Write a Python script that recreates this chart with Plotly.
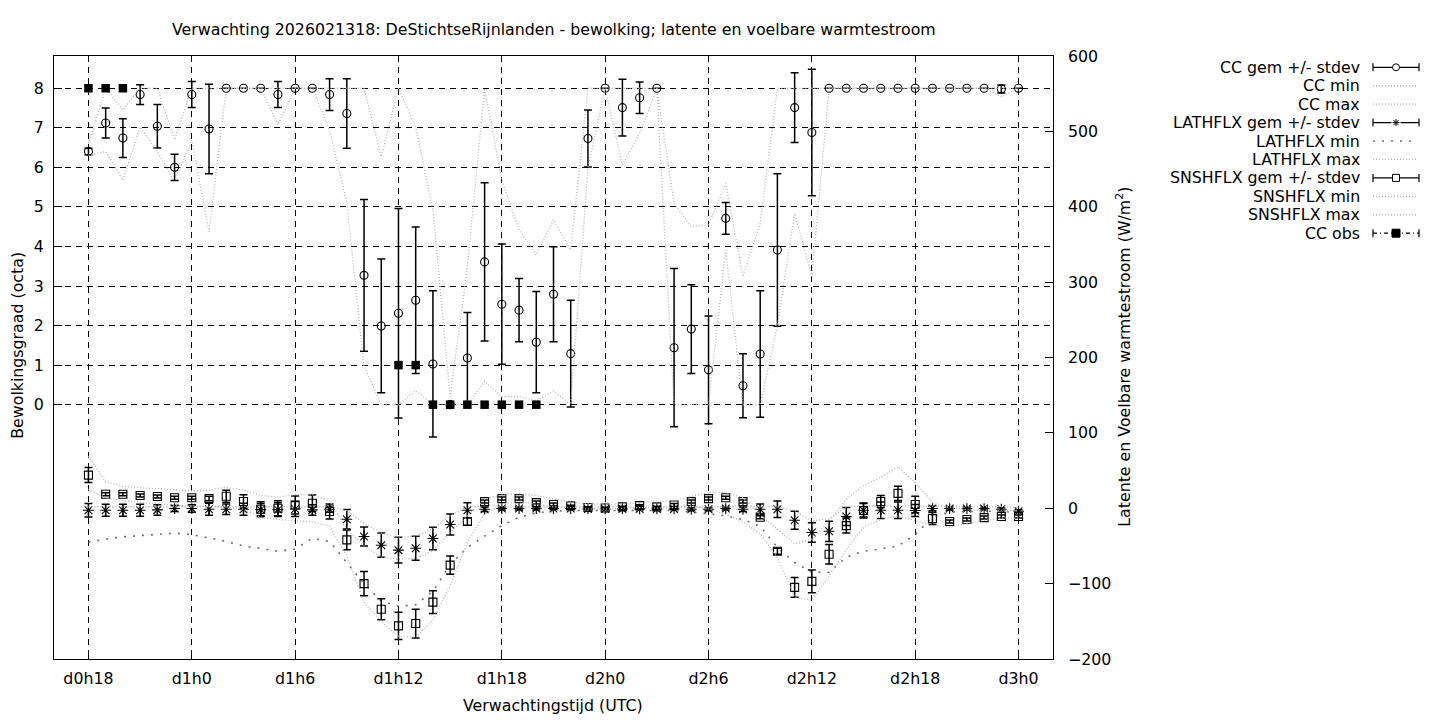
import plotly.graph_objects as go

# ---------------- data (hours since d0h0) ----------------
hours = [18, 19, 20, 21, 22, 23, 24, 25, 26, 27, 28, 29, 30, 31, 32, 33, 34, 35, 36, 37,
         38, 39, 40, 41, 42, 43, 44, 45, 46, 47, 48, 49, 50, 51, 52, 53, 54, 55, 56, 57,
         58, 59, 60, 61, 62, 63, 64, 65, 66, 67, 68, 69, 70, 71, 72]

tick_hours = [18, 24, 30, 36, 42, 48, 54, 60, 66, 72]
tick_labels = ["d0h18", "d1h0", "d1h6", "d1h12", "d1h18", "d2h0", "d2h6", "d2h12", "d2h18", "d3h0"]

cc_mean = [6.4, 7.12, 6.74, 7.84, 7.04, 6.0, 7.84, 6.97, 8, 8, 8, 7.84, 8, 8, 7.84, 7.36, 3.27, 1.99, 2.31, 2.64,
           1.03, 0.0, 1.18, 3.61, 2.54, 2.39, 1.58, 2.79, 1.29, 6.73, 8, 7.51, 7.76, 8, 1.44, 1.91, 0.88, 4.71, 0.48, 1.28,
           3.91, 7.51, 6.88, 8, 8, 8, 8, 8, 8, 8, 8, 8, 8, 7.98, 8]
cc_std = [0.08, 0.38, 0.49, 0.25, 0.55, 0.33, 0.33, 1.13, 0, 0, 0, 0.33, 0, 0, 0.4, 0.88, 1.92, 1.69, 2.65, 1.85,
          1.85, 0, 1.15, 2.0, 1.52, 0.8, 1.28, 1.2, 1.35, 0.72, 0, 0.72, 0.4, 0, 2.0, 1.12, 1.36, 0.4, 0.81, 1.6,
          1.93, 0.88, 1.6, 0, 0, 0, 0, 0, 0, 0, 0, 0, 0, 0.1, 0]
cc_min = [6.3, 6.4, 5.68, 7.02, 6.4, 5.64, 6.69, 4.37, 8, 8, 8, 7.07, 8, 8, 6.94, 5.1, 0.97, 0, 0, 0.36,
          0, 0, 0, 0.59, 0.2, 0.2, 0.1, 0.34, 0, 6.0, 8, 6.06, 6.86, 8, 0, 0, 0, 3.91, 0, 0,
          2.0, 4.83, 3.24, 8, 8, 8, 8, 8, 8, 8, 8, 8, 8, 7.78, 8]
cc_max = [6.6, 8, 7.45, 8, 8, 6.7, 8, 8, 8, 8, 8, 8, 8, 8, 8, 8, 8, 6.27, 8, 7.02,
          4.92, 0.2, 3.49, 8, 5.68, 4.42, 3.79, 4.67, 3.91, 8, 8, 8, 8, 8, 5.09, 4.5, 4.55, 5.59, 3.24, 4.58,
          8, 8, 8, 8, 8, 8, 8, 8, 8, 8, 8, 8, 8, 8, 8]

lat_mean = [-2.6, -2.6, -2.6, -2.6, -2.2, -0.4, -0.4, -1.3, -1.3, -1.3, -1.8, -1.8, -1.0, -2.2, -1.3, -14.6, -37.5, -49, -55.6, -53,
            -40.2, -21.6, -2.6, -1.3, -0.4, -0.4, -0.4, -0.4, -0.4, -0.9, -0.9, -0.9, -0.9, -0.9, -0.9, -1.3, -1.3, -0.4, -1.3, -1.3,
            -1.3, -15.9, -32.2, -30.6, -11, -2.6, -2.6, -2.6, -3.0, -0.4, -0.4, -0.4, -0.4, -1.3, -4]
lat_std = [9, 8, 8, 8, 7, 4, 5, 8, 7, 8, 8, 9, 10, 7, 4, 13, 12.6, 16, 17, 16,
           15, 14, 10, 3, 2, 2, 2, 1.5, 1, 1, 1, 1, 1, 1, 1, 2, 2, 2, 3, 7,
           11, 12, 13, 13.5, 12, 9, 11, 11, 8, 3, 2, 2, 2, 2, 2]
lat_min = [-45, -41, -38, -36, -34, -33, -35, -39, -44, -50, -54, -57, -54, -40, -44, -72, -100, -123, -130, -128,
           -110, -75, -52, -37, -23, -12, -6, -4, -3, -3, -3, -3, -3, -3, -3, -5, -8, -10, -15, -24,
           -52, -72, -85, -85, -65, -57, -54, -50, -35, -12, -5, -4, -4, -4, -6]
lat_max = [2, 2, 2, 2, 2, 2, 2, 2, 2, 2, 2, 2, 2, 3, 2, -3, -20, -33, -39, -37,
           -27, -10, 2, 3, 2, 2, 2, 2, 2, 2, 2, 2, 2, 2, 2, 2, 2, 2, 2, 3,
           2, -3, -17, -14, 2, 3, 3, 3, 3, 2, 2, 2, 2, 2, 1]

sns_mean = [44, 18.5, 18.5, 17, 15.5, 14, 14, 13, 16, 9, -1.3, 0, 4.4, 6.6, -4.4, -42, -100, -134, -156, -153,
            -124.5, -75.5, -17.6, 8.8, 12.8, 12.8, 7.5, 4.9, 3.1, 0.9, 0.4, 1.8, 3.5, 1.8, 4.4, 8.8, 12.8, 14, 8.8, -12,
            -57, -105, -97, -61, -23, -3, 9, 19.7, 4.9, -13.7, -17.6, -15, -12.4, -11, -11]
sns_std = [10, 2, 2, 2, 2, 2, 2, 3, 8, 9, 10, 10, 12, 11, 10, 13, 16, 14, 18, 19,
           15, 12, 5, 2, 2, 2, 2, 2, 1, 1, 1, 1, 1, 1, 2, 2, 2, 2, 2, 2,
           4, 13, 15, 13, 10, 10, 8, 9.5, 11, 8, 2, 2, 2, 2, 2]
sns_min = [25, 14, 10, 8, 5, 4, 3, 2.5, 2, -1, -12, -15, -17, -18, -24, -63, -125, -150, -170, -171,
           -148, -103, -45, -8, 5, 9, 5, 2, 1, -1, -1, 0, 1, 0, 1, 3, -1, -8, -18, -34,
           -65, -118, -122, -90, -55, -25, -15, -10, -16, -23, -25, -20, -16, -13, -13]
sns_max = [69, 35, 29, 27, 26, 25, 23, 24, 28, 24, 17, 15, 18, 18, 10, -28, -50, -65, -67.5, -66.6,
           -56.5, -32, -10, 12, 18, 19, 17, 12, 8, 6, 5, 6, 7, 8, 10, 16, 21, 21, 14, -9,
           -28, -47, -41, -17, 12, 30, 41, 55, 34, 8, 1, -2, -3, -3, -3]

obs_hours = [18, 19, 20, 36, 37, 38, 39, 40, 41, 42, 43, 44]
obs_vals = [8, 8, 8, 1, 1, 0, 0, 0, 0, 0, 0, 0]

legend_labels = ["CC gem +/- stdev", "CC min", "CC max", "LATHFLX gem +/- stdev", "LATHFLX min",
                 "LATHFLX max", "SNSHFLX gem +/- stdev", "SNSHFLX min", "SNSHFLX max", "CC obs"]

# ---------------- styling ----------------
FONT = "DejaVu Sans"
FS = 15.8
LIGHT = "#b4b4b4"
DARKDOT = "#6e6e6e"
DENSE = "1px,2px"
SPARSE = "2px,7px"

# plot area in pixels
L, R, T, B = 54, 1053, 56, 659.5
W, H = R - L, B - T


def px_x(px):
    return (px - L) / W


def px_y(py):
    return (B - py) / H


fig = go.Figure()


def err_trace(y, s, sym, size, name, axis):
    return go.Scatter(x=hours, y=y, mode="markers", name=name, yaxis=axis,
                      marker=dict(symbol=sym, size=size, color="black", line=dict(width=1.1, color="black")),
                      error_y=dict(type="data", array=s, visible=True, color="black", thickness=1.5, width=4),
                      showlegend=False)


def line_trace(y, color, dash, width, name, axis):
    return go.Scatter(x=hours, y=y, mode="lines", name=name, yaxis=axis,
                      line=dict(color=color, dash=dash, width=width),
                      showlegend=False)


fig.add_trace(err_trace(cc_mean, cc_std, "circle-open", 8, "CC gem +/- stdev", "y"))
fig.add_trace(line_trace(cc_min, LIGHT, DENSE, 1.3, "CC min", "y"))
fig.add_trace(line_trace(cc_max, LIGHT, DENSE, 1.3, "CC max", "y"))
fig.add_trace(err_trace(lat_mean, lat_std, "asterisk-open", 9, "LATHFLX gem +/- stdev", "y2"))
fig.add_trace(line_trace(lat_min, DARKDOT, SPARSE, 1.6, "LATHFLX min", "y2"))
fig.add_trace(line_trace(lat_max, LIGHT, DENSE, 1.3, "LATHFLX max", "y2"))
fig.add_trace(err_trace(sns_mean, sns_std, "square-open", 8, "SNSHFLX gem +/- stdev", "y2"))
fig.add_trace(line_trace(sns_min, LIGHT, DENSE, 1.3, "SNSHFLX min", "y2"))
fig.add_trace(line_trace(sns_max, LIGHT, DENSE, 1.3, "SNSHFLX max", "y2"))
fig.add_trace(go.Scatter(x=obs_hours, y=obs_vals, mode="markers", name="CC obs", yaxis="y",
                         marker=dict(symbol="square", size=8.5, color="black"), showlegend=False))

# ---------------- manual gnuplot-style key ----------------
shapes = []
annotations = []
row0, drow = 67.3, 18.45
sx0, sx1, sxm = 1373, 1419, 1396
for i, lab in enumerate(legend_labels):
    py = row0 + i * drow
    yy = px_y(py)
    annotations.append(dict(text=lab, x=px_x(1362), y=yy, xref="paper", yref="paper",
                            xanchor="right", yanchor="middle", showarrow=False,
                            font=dict(family=FONT, size=FS, color="black")))
    if "gem" in lab or "obs" in lab:
        dash = "solid" if "gem" in lab else "4px,3px,1px,3px"
        shapes.append(dict(type="line", xref="paper", yref="paper", x0=px_x(sx0), x1=px_x(sx1),
                           y0=yy, y1=yy, line=dict(color="black", width=1.2, dash=dash)))
        for cx in (sx0, sx1):
            shapes.append(dict(type="line", xref="paper", yref="paper", x0=px_x(cx), x1=px_x(cx),
                               y0=px_y(py - 4), y1=px_y(py + 4), line=dict(color="black", width=1.2)))
        if "CC gem" in lab:
            shapes.append(dict(type="circle", xref="paper", yref="paper", xsizemode="pixel", ysizemode="pixel",
                               xanchor=px_x(sxm), yanchor=yy, x0=-3.5, x1=3.5, y0=-3.5, y1=3.5,
                               fillcolor="white", line=dict(color="black", width=1)))
        elif "SNSHFLX" in lab:
            shapes.append(dict(type="rect", xref="paper", yref="paper", xsizemode="pixel", ysizemode="pixel",
                               xanchor=px_x(sxm), yanchor=yy, x0=-3.5, x1=3.5, y0=-3.5, y1=3.5,
                               fillcolor="white", line=dict(color="black", width=1)))
        elif "obs" in lab:
            shapes.append(dict(type="rect", xref="paper", yref="paper", xsizemode="pixel", ysizemode="pixel",
                               xanchor=px_x(sxm), yanchor=yy, x0=-4, x1=4, y0=-4, y1=4,
                               fillcolor="black", line=dict(color="black", width=1)))
        else:
            shapes.append(dict(type="rect", xref="paper", yref="paper", xsizemode="pixel", ysizemode="pixel",
                               xanchor=px_x(sxm), yanchor=yy, x0=-4.5, x1=4.5, y0=-4.5, y1=4.5,
                               fillcolor="white", line=dict(color="white", width=0)))
            for (a, b, c, d) in ((-3.5, 0, 3.5, 0), (0, -3.5, 0, 3.5), (-2.6, -2.6, 2.6, 2.6), (-2.6, 2.6, 2.6, -2.6)):
                shapes.append(dict(type="line", xref="paper", yref="paper", xsizemode="pixel", ysizemode="pixel",
                                   xanchor=px_x(sxm), yanchor=yy, x0=a, y0=b, x1=c, y1=d,
                                   line=dict(color="black", width=1)))
    else:
        if lab == "LATHFLX min":
            col, dsh, wd = DARKDOT, SPARSE, 1.6
        else:
            col, dsh, wd = LIGHT, DENSE, 1.3
        shapes.append(dict(type="line", xref="paper", yref="paper", x0=px_x(sx0), x1=px_x(1416),
                           y0=yy, y1=yy, line=dict(color=col, width=wd, dash=dsh)))

# titles
annotations += [
    dict(text="Verwachting 2026021318: DeStichtseRijnlanden - bewolking; latente en voelbare warmtestroom",
         x=px_x(554), y=px_y(29), xref="paper", yref="paper", showarrow=False,
         xanchor="center", yanchor="middle", font=dict(family=FONT, size=FS, color="black")),
    dict(text="Verwachtingstijd (UTC)", x=px_x(553), y=px_y(706), xref="paper", yref="paper",
         showarrow=False, xanchor="center", yanchor="middle", font=dict(family=FONT, size=FS, color="black")),
    dict(text="Bewolkingsgraad (octa)", x=px_x(18), y=px_y(346), xref="paper", yref="paper",
         showarrow=False, textangle=-90, xanchor="center", yanchor="middle",
         font=dict(family=FONT, size=FS, color="black")),
    dict(text="Latente en Voelbare warmtestroom (W/m<sup>2</sup>)", x=px_x(1124), y=px_y(357),
         xref="paper", yref="paper", showarrow=False, textangle=-90, xanchor="center", yanchor="middle",
         font=dict(family=FONT, size=FS, color="black")),
]

GRID_DASH = "6px,5px"
fig.update_layout(
    width=1440, height=720,
    margin=dict(l=L, r=1440 - R, t=T, b=720 - B),
    paper_bgcolor="white", plot_bgcolor="white",
    font=dict(family=FONT, size=FS, color="black"),
    showlegend=False,
    shapes=shapes, annotations=annotations,
    xaxis=dict(range=[16, 74], tickvals=tick_hours, ticktext=tick_labels,
               ticks="inside", ticklen=8, tickcolor="black", ticklabelstandoff=5,
               tickfont=dict(family=FONT, size=FS, color="black"),
               showgrid=True, gridcolor="black", gridwidth=1, griddash=GRID_DASH,
               showline=True, linecolor="black", linewidth=1, mirror=True, zeroline=False),
    yaxis=dict(range=[-6.43, 8.815], tickvals=[0, 1, 2, 3, 4, 5, 6, 7, 8],
               ticks="inside", ticklen=8, tickcolor="black", ticklabelstandoff=6,
               tickfont=dict(family=FONT, size=FS, color="black"),
               showgrid=True, gridcolor="black", gridwidth=1, griddash=GRID_DASH,
               showline=True, linecolor="black", linewidth=1, mirror=True, zeroline=False),
    yaxis2=dict(range=[-200, 600], tickvals=[-200, -100, 0, 100, 200, 300, 400, 500, 600],
                overlaying="y", side="right", ticks="inside", ticklen=8, tickcolor="black",
                tickfont=dict(family=FONT, size=FS, color="black"),
                ticklabelstandoff=14, showgrid=False, zeroline=False, showline=False),
)

fig.write_html("out.html", config={"displayModeBar": False},
               post_script="document.body.style.margin='0';document.body.style.overflow='hidden';")
